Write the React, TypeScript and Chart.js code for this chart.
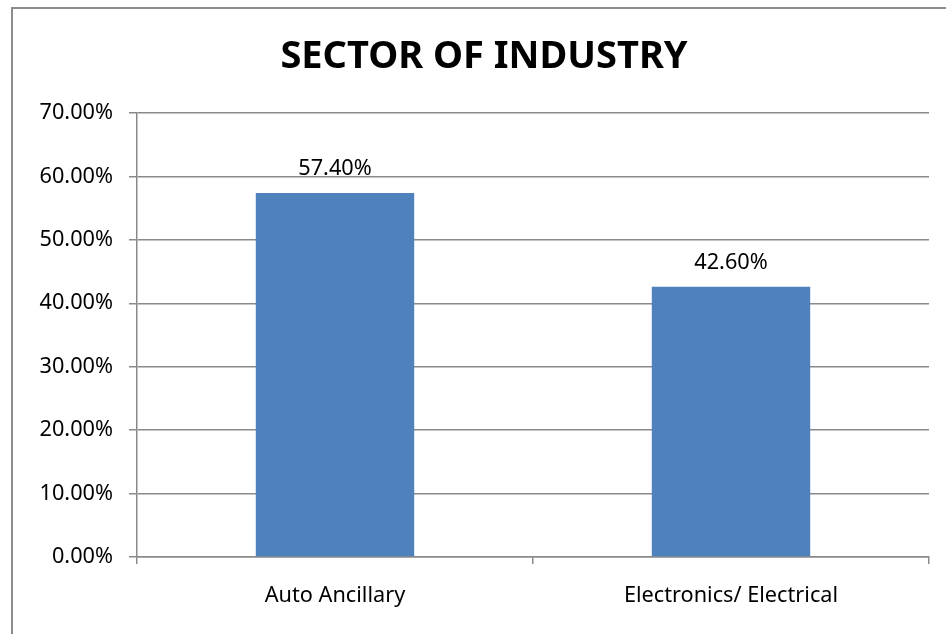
import React, { useEffect, useRef } from "react";
import { Chart, registerables } from "chart.js";

Chart.register(...registerables);

const categories: string[] = ["Auto Ancillary", "Electronics/ Electrical"];
const values: number[] = [57.4, 42.6];
const yTicks: number[] = [0, 10, 20, 30, 40, 50, 60, 70];
const titleText = "SECTOR OF INDUSTRY";

const FONT = "'Noto Sans', 'Open Sans', sans-serif";
const GRID = "#8a8a8a";
const FS = 21.7;

export default function App() {
  const ref = useRef<HTMLCanvasElement | null>(null);

  useEffect(() => {
    if (!ref.current) return;

    const framePlugin = {
      id: "frame",
      beforeDraw(chart: any) {
        const ctx = chart.ctx;
        ctx.save();
        ctx.fillStyle = "#ffffff";
        ctx.fillRect(0, 0, chart.width, chart.height);
        ctx.strokeStyle = "#8c8c8c";
        ctx.lineWidth = 2;
        ctx.beginPath();
        ctx.moveTo(12, chart.height + 5);
        ctx.lineTo(12, 8);
        ctx.lineTo(chart.width + 5, 8);
        ctx.stroke();
        ctx.restore();
      },
      afterDraw(chart: any) {
        const ctx = chart.ctx;
        ctx.save();
        ctx.fillStyle = "#000";
        ctx.font = `bold 38px ${FONT}`;
        ctx.textAlign = "center";
        ctx.textBaseline = "alphabetic";
        ctx.fillText(titleText, 484, 68);
        ctx.restore();
      },
    };

    const labelPlugin = {
      id: "valueLabels",
      afterDatasetsDraw(chart: any) {
        const ctx = chart.ctx;
        const meta = chart.getDatasetMeta(0);
        ctx.save();
        ctx.fillStyle = "#000";
        ctx.font = `${FS}px ${FONT}`;
        ctx.textAlign = "center";
        ctx.textBaseline = "alphabetic";
        meta.data.forEach((bar: any, i: number) => {
          ctx.fillText(values[i].toFixed(2) + "%", bar.x, bar.y - 18);
        });
        ctx.restore();
      },
    };

    const chart = new Chart(ref.current, {
      type: "bar",
      data: {
        labels: categories,
        datasets: [
          {
            data: values,
            backgroundColor: "#4F81BD",
            borderWidth: 0,
            barPercentage: 0.4,
            categoryPercentage: 1,
          },
        ],
      },
      options: {
        responsive: false,
        animation: false,
        layout: { padding: { left: 12, right: 17, top: 113, bottom: 0 } },
        plugins: {
          legend: { display: false },
          title: { display: false },
          tooltip: { enabled: false },
        },
        scales: {
          x: {
            grid: {
              display: true,
              drawOnChartArea: false,
              drawTicks: true,
              tickLength: 7,
              color: GRID,
              lineWidth: 1.5,
              offset: true,
            },
            border: { display: true, color: GRID, width: 1.5 },
            ticks: {
              color: "#000",
              font: { family: FONT, size: FS },
              padding: 19,
              maxRotation: 0,
            },
            afterFit(scale: any) {
              scale.height = 634 - 557;
            },
          },
          y: {
            min: 0,
            max: 70,
            afterBuildTicks(scale: any) {
              scale.ticks = yTicks.map((v) => ({ value: v }));
            },
            grid: {
              color: GRID,
              lineWidth: 1.5,
              tickLength: 8,
              drawTicks: true,
            },
            border: { display: true, color: GRID, width: 1.5 },
            ticks: {
              color: "#000",
              font: { family: FONT, size: FS },
              padding: 16,
              callback: (v: any) => Number(v).toFixed(2) + "%",
            },
            afterFit(scale: any) {
              scale.width = 137 - 12;
            },
          },
        },
      },
      plugins: [framePlugin, labelPlugin],
    });

    return () => chart.destroy();
  }, []);

  return (
    <div style={{ position: "fixed", left: 0, top: 0, width: 946, height: 634 }}>
      <canvas ref={ref} width={946} height={634} style={{ display: "block" }} />
    </div>
  );
}
